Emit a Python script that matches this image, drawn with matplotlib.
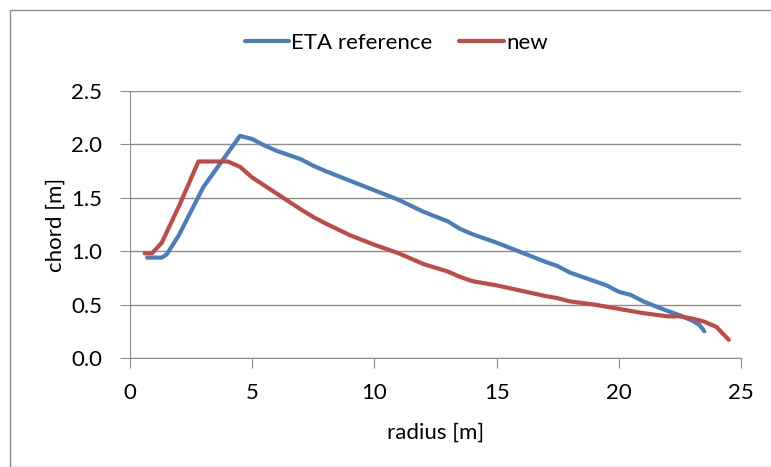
import numpy as np
import matplotlib.pyplot as plt
from matplotlib.patches import Rectangle

plt.rcParams['font.family'] = ['Lato', 'DejaVu Sans']

# ETA reference blade
r_ref = [0.7, 1.3, 1.5, 2.0, 3.0, 3.5, 4.5, 5.0, 5.5, 6.0, 7.0, 7.5, 8.0, 9.0, 10.0,
         11.0, 12.0, 13.0, 13.5, 14.0, 15.0, 16.0, 17.0, 17.5, 18.0, 19.0, 19.5,
         20.0, 20.5, 21.0, 22.0, 22.5, 23.0, 23.3, 23.5]
c_ref = [0.94, 0.94, 0.97, 1.15, 1.60, 1.76, 2.08, 2.05, 1.99, 1.94, 1.86, 1.80,
         1.75, 1.66, 1.57, 1.48, 1.37, 1.28, 1.21, 1.16, 1.08, 0.99, 0.90, 0.86,
         0.80, 0.72, 0.68, 0.62, 0.59, 0.53, 0.44, 0.40, 0.35, 0.31, 0.25]

# new blade
r_new = [0.6, 0.9, 1.3, 2.0, 2.8, 3.0, 4.0, 4.5, 5.0, 6.0, 7.0, 7.5, 8.0, 9.0, 10.0,
         11.0, 12.0, 13.0, 13.5, 14.0, 15.0, 16.0, 17.0, 17.5, 18.0, 19.0, 20.0,
         21.0, 22.0, 22.5, 23.0, 23.5, 24.0, 24.5]
c_new = [0.98, 0.98, 1.08, 1.42, 1.84, 1.84, 1.84, 1.79, 1.69, 1.54, 1.39, 1.32,
         1.26, 1.15, 1.06, 0.98, 0.88, 0.81, 0.76, 0.72, 0.68, 0.63, 0.58, 0.56,
         0.53, 0.50, 0.46, 0.42, 0.39, 0.39, 0.37, 0.34, 0.29, 0.17]

W, H = 771, 467
fig = plt.figure(figsize=(W / 100, H / 100), dpi=100)
fig.patches.append(Rectangle((10 / W, 0), 1, 1 - 10 / H, transform=fig.transFigure,
                             fill=False, edgecolor='#8c8c8c', linewidth=1))
ax = fig.add_axes([130 / W, (H - 358) / H, 611 / W, 267 / H])

ax.plot(r_ref, c_ref, color='#4a7ebb', linewidth=3, label='ETA reference',
        solid_capstyle='round', solid_joinstyle='round')
ax.plot(r_new, c_new, color='#be4b48', linewidth=3, label='new',
        solid_capstyle='round', solid_joinstyle='round')

ax.set_xlim(0, 25)
ax.set_ylim(0, 2.5)
ax.set_xticks(np.arange(0, 26, 5))
ax.set_yticks(np.arange(0, 2.51, 0.5))
ax.set_yticklabels([f'{v:.1f}' for v in np.arange(0, 2.51, 0.5)])
ax.grid(axis='y', color='#8c8c8c', linewidth=1)
ax.set_axisbelow(True)
for s in ['top', 'right']:
    ax.spines[s].set_visible(False)
for s in ['left', 'bottom']:
    ax.spines[s].set_color('#8c8c8c')
ax.tick_params(colors='#8c8c8c', labelcolor='black', labelsize=16, length=7)
ax.tick_params(axis='x', pad=11)
ax.tick_params(axis='y', pad=13)

ax.set_xlabel('radius [m]', fontsize=16, labelpad=14)
ax.set_ylabel('chord [m]', fontsize=16)
ax.yaxis.set_label_coords(-0.106, 0.5)

fig.legend(loc='center', bbox_to_anchor=(0.514, 1 - 43 / H), ncol=2, frameon=False,
           fontsize=16, handlelength=2.0, columnspacing=1.2, handletextpad=0.1)

fig.savefig('out.png', dpi=100)
